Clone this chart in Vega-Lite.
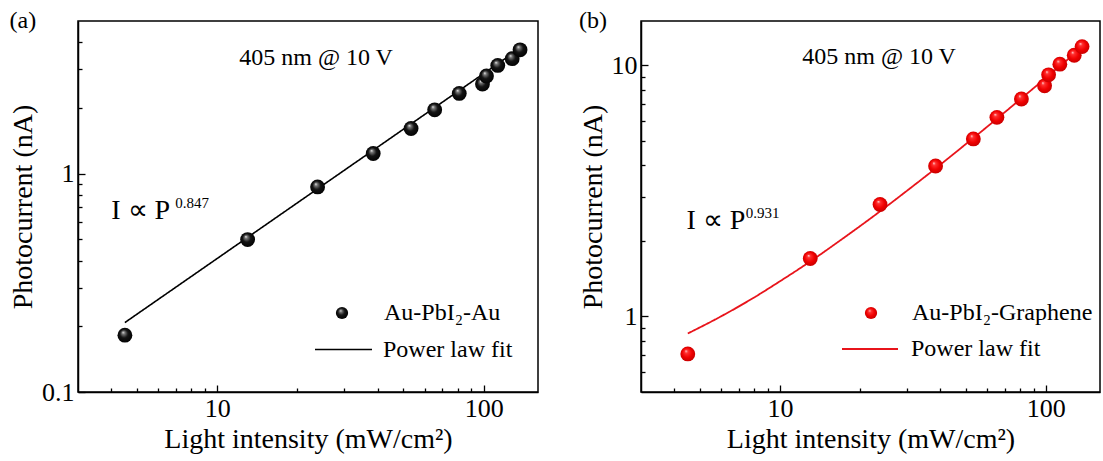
{
  "$schema": "https://vega.github.io/schema/vega-lite/v6.json",
  "padding": {"left": 8, "top": 8, "right": 0, "bottom": 0},
  "spacing": 39,
  "resolve": {"scale": {"shape": "independent", "strokeDash": "independent"}, "legend": {"shape": "independent", "strokeDash": "independent"}},
  "config": {
    "font": "Liberation Serif",
    "view": {"stroke": "black", "strokeWidth": 1.5},
    "axis": {"domainColor": "black", "domainWidth": 1.5, "tickColor": "black", "tickWidth": 1.3, "labelColor": "black", "titleColor": "black", "labelFont": "Liberation Serif", "titleFont": "Liberation Serif", "labelFontSize": 26, "titleFontSize": 28, "titleFontWeight": "normal", "grid": false, "format": "~g"},
    "legend": {"labelFont": "Liberation Serif", "labelFontSize": 24, "labelColor": "black", "title": null, "labelLimit": 400},
    "text": {"font": "Liberation Serif"},
    "title": {"font": "Liberation Serif", "fontSize": 24, "fontWeight": "normal", "color": "black", "anchor": "start", "frame": "bounds", "offset": -12}
  },
  "datasets": {
    "a_pts": [
      {"P": 4.5, "I": 0.182, "series": "Au-PbI₂-Au"},
      {"P": 13, "I": 0.499, "series": "Au-PbI₂-Au"},
      {"P": 23.8, "I": 0.869, "series": "Au-PbI₂-Au"},
      {"P": 38.5, "I": 1.236, "series": "Au-PbI₂-Au"},
      {"P": 53.4, "I": 1.61, "series": "Au-PbI₂-Au"},
      {"P": 65.5, "I": 1.96, "series": "Au-PbI₂-Au"},
      {"P": 81, "I": 2.33, "series": "Au-PbI₂-Au"},
      {"P": 99, "I": 2.57, "series": "Au-PbI₂-Au"},
      {"P": 102.5, "I": 2.8, "series": "Au-PbI₂-Au"},
      {"P": 113, "I": 3.13, "series": "Au-PbI₂-Au"},
      {"P": 128, "I": 3.36, "series": "Au-PbI₂-Au"},
      {"P": 137, "I": 3.69, "series": "Au-PbI₂-Au"}
    ],
    "a_fit": [
      {"P": 4.5, "I": 0.208, "fit": "Power law fit"},
      {"P": 137, "I": 3.75, "fit": "Power law fit"}
    ],
    "b_pts": [
      {"P": 4.5, "I": 0.709, "series": "Au-PbI₂-Graphene"},
      {"P": 13, "I": 1.7, "series": "Au-PbI₂-Graphene"},
      {"P": 23.8, "I": 2.79, "series": "Au-PbI₂-Graphene"},
      {"P": 38.5, "I": 3.97, "series": "Au-PbI₂-Graphene"},
      {"P": 53.4, "I": 5.09, "series": "Au-PbI₂-Graphene"},
      {"P": 65.5, "I": 6.2, "series": "Au-PbI₂-Graphene"},
      {"P": 81, "I": 7.34, "series": "Au-PbI₂-Graphene"},
      {"P": 99, "I": 8.28, "series": "Au-PbI₂-Graphene"},
      {"P": 102.5, "I": 9.16, "series": "Au-PbI₂-Graphene"},
      {"P": 113, "I": 10.1, "series": "Au-PbI₂-Graphene"},
      {"P": 128, "I": 10.96, "series": "Au-PbI₂-Graphene"},
      {"P": 137, "I": 11.86, "series": "Au-PbI₂-Graphene"}
    ],
    "b_fit": [
      {"P": 4.5, "I": 0.855, "fit": "Power law fit"},
      {"P": 6, "I": 1.0, "fit": "Power law fit"},
      {"P": 8, "I": 1.19, "fit": "Power law fit"},
      {"P": 10, "I": 1.38, "fit": "Power law fit"},
      {"P": 13, "I": 1.655, "fit": "Power law fit"},
      {"P": 17, "I": 2.02, "fit": "Power law fit"},
      {"P": 23.8, "I": 2.62, "fit": "Power law fit"},
      {"P": 30, "I": 3.16, "fit": "Power law fit"},
      {"P": 38.6, "I": 3.89, "fit": "Power law fit"},
      {"P": 50, "I": 4.85, "fit": "Power law fit"},
      {"P": 65, "I": 6.08, "fit": "Power law fit"},
      {"P": 80, "I": 7.3, "fit": "Power law fit"},
      {"P": 100, "I": 8.9, "fit": "Power law fit"},
      {"P": 120, "I": 10.47, "fit": "Power law fit"},
      {"P": 137, "I": 11.8, "fit": "Power law fit"}
    ],
    "a_txt": [
      {"P": 23.5, "I": 3.4, "t": "405 nm @ 10 V"}
    ],
    "a_law": [
      {"P": 4.0, "I": 0.672, "t": "I ∝ P"}
    ],
    "a_sup": [
      {"P": 6.95, "I": 0.731, "t": "0.847"}
    ],
    "b_txt": [
      {"P": 23.6, "I": 10.8, "t": "405 nm @ 10 V"}
    ],
    "b_law": [
      {"P": 4.45, "I": 2.4, "t": "I ∝ P"}
    ],
    "b_sup": [
      {"P": 7.43, "I": 2.58, "t": "0.931"}
    ]
  },
  "hconcat": [
    {
      "width": 460,
      "height": 371,
      "title": {"text": "(a)"},
      "encoding": {
        "x": {"field": "P", "type": "quantitative", "title": "Light intensity (mW/cm²)",
          "scale": {"type": "log", "domain": [3, 160], "nice": false},
          "axis": {"values": [4, 5, 6, 7, 8, 9, 10, 20, 30, 40, 50, 60, 70, 80, 90, 100],
            "labelExpr": "(datum.value == 10 || datum.value == 100) ? datum.label : ''",
            "tickSize": {"condition": {"test": "datum.value == 10 || datum.value == 100", "value": -7}, "value": -4},
            "labelPadding": 10, "titlePadding": 1, "labelFlush": false, "labelOverlap": false}},
        "y": {"field": "I", "type": "quantitative", "title": "Photocurrent (nA)",
          "scale": {"type": "log", "domain": [0.1, 5], "nice": false},
          "axis": {"values": [0.1, 0.2, 0.3, 0.4, 0.5, 0.6, 0.7, 0.8, 0.9, 1, 2, 3, 4],
            "labelExpr": "(datum.value == 0.1 || datum.value == 1) ? datum.label : ''",
            "tickSize": {"condition": {"test": "datum.value == 0.1 || datum.value == 1", "value": -7}, "value": -4},
            "labelPadding": 11, "titlePadding": 4, "labelFlush": false, "labelOverlap": false}}
      },
      "layer": [
        {
          "data": {"name": "a_fit"},
          "mark": {"type": "line", "color": "black", "strokeWidth": 1.6},
          "encoding": {
            "strokeDash": {"field": "fit", "type": "nominal", "scale": {"range": [[1, 0]]},
              "legend": {"orient": "none", "legendX": 236, "legendY": 299, "symbolSize": 3249, "symbolStrokeWidth": 1.6, "symbolStrokeColor": "black", "labelOffset": 10}}
          }
        },
        {
          "data": {"name": "a_pts"},
          "mark": {"type": "point", "filled": true, "size": 220, "opacity": 1,
            "fill": {"gradient": "radial", "x1": 0.38, "y1": 0.3, "r1": 0, "x2": 0.5, "y2": 0.5, "r2": 0.55,
              "stops": [{"offset": 0, "color": "#f4f4f4"}, {"offset": 0.18, "color": "#777777"}, {"offset": 0.5, "color": "#141414"}, {"offset": 1, "color": "#000000"}]}},
          "encoding": {
            "shape": {"field": "series", "type": "nominal", "scale": {"range": ["circle"]},
              "legend": {"orient": "none", "legendX": 252, "legendY": 280, "symbolSize": 150, "labelOffset": 30,
                "encode": {"symbols": {"update": {"fill": {"value": {"gradient": "radial", "x1": 0.38, "y1": 0.3, "r1": 0, "x2": 0.5, "y2": 0.5, "r2": 0.55,
              "stops": [{"offset": 0, "color": "#f4f4f4"}, {"offset": 0.18, "color": "#777777"}, {"offset": 0.5, "color": "#141414"}, {"offset": 1, "color": "#000000"}]}}, "opacity": {"value": 1}, "strokeWidth": {"value": 0}}}}}}
          }
        },
        {
          "data": {"name": "a_txt"},
          "mark": {"type": "text", "fontSize": 24, "align": "center", "baseline": "middle", "color": "black"},
          "encoding": {"text": {"field": "t"}}
        },
        {
          "data": {"name": "a_law"},
          "mark": {"type": "text", "fontSize": 28, "align": "left", "baseline": "middle", "color": "black"},
          "encoding": {"text": {"field": "t"}}
        },
        {
          "data": {"name": "a_sup"},
          "mark": {"type": "text", "fontSize": 15, "align": "left", "baseline": "middle", "color": "black"},
          "encoding": {"text": {"field": "t"}}
        }
      ]
    },
    {
      "width": 459,
      "height": 371,
      "title": {"text": "(b)"},
      "encoding": {
        "x": {"field": "P", "type": "quantitative", "title": "Light intensity (mW/cm²)",
          "scale": {"type": "log", "domain": [3, 160], "nice": false},
          "axis": {"values": [4, 5, 6, 7, 8, 9, 10, 20, 30, 40, 50, 60, 70, 80, 90, 100],
            "labelExpr": "(datum.value == 10 || datum.value == 100) ? datum.label : ''",
            "tickSize": {"condition": {"test": "datum.value == 10 || datum.value == 100", "value": -7}, "value": -4},
            "labelPadding": 10, "titlePadding": 1, "labelFlush": false, "labelOverlap": false}},
        "y": {"field": "I", "type": "quantitative", "title": "Photocurrent (nA)",
          "scale": {"type": "log", "domain": [0.5, 15], "nice": false},
          "axis": {"values": [0.6, 0.7, 0.8, 0.9, 1, 2, 3, 4, 5, 6, 7, 8, 9, 10],
            "labelExpr": "(datum.value == 1 || datum.value == 10) ? datum.label : ''",
            "tickSize": {"condition": {"test": "datum.value == 1 || datum.value == 10", "value": -7}, "value": -4},
            "labelPadding": 11, "titlePadding": 4, "labelFlush": false, "labelOverlap": false}}
      },
      "layer": [
        {
          "data": {"name": "b_fit"},
          "mark": {"type": "line", "color": "#e8141b", "strokeWidth": 1.8, "interpolate": "monotone"},
          "encoding": {
            "strokeDash": {"field": "fit", "type": "nominal", "scale": {"range": [[1, 0]]},
              "legend": {"orient": "none", "legendX": 200, "legendY": 299, "symbolSize": 3136, "symbolStrokeWidth": 1.8, "symbolStrokeColor": "#e8141b", "labelOffset": 12}}
          }
        },
        {
          "data": {"name": "b_pts"},
          "mark": {"type": "point", "filled": true, "size": 220, "opacity": 1,
            "fill": {"gradient": "radial", "x1": 0.38, "y1": 0.3, "r1": 0, "x2": 0.5, "y2": 0.5, "r2": 0.55,
              "stops": [{"offset": 0, "color": "#ffe8e8"}, {"offset": 0.2, "color": "#ff3030"}, {"offset": 0.6, "color": "#f00000"}, {"offset": 1, "color": "#c00000"}]}},
          "encoding": {
            "shape": {"field": "series", "type": "nominal", "scale": {"range": ["circle"]},
              "legend": {"orient": "none", "legendX": 218, "legendY": 280, "symbolSize": 150, "labelOffset": 29,
                "encode": {"symbols": {"update": {"fill": {"value": {"gradient": "radial", "x1": 0.38, "y1": 0.3, "r1": 0, "x2": 0.5, "y2": 0.5, "r2": 0.55,
              "stops": [{"offset": 0, "color": "#ffe8e8"}, {"offset": 0.2, "color": "#ff3030"}, {"offset": 0.6, "color": "#f00000"}, {"offset": 1, "color": "#c00000"}]}}, "opacity": {"value": 1}, "strokeWidth": {"value": 0}}}}}}
          }
        },
        {
          "data": {"name": "b_txt"},
          "mark": {"type": "text", "fontSize": 24, "align": "center", "baseline": "middle", "color": "black"},
          "encoding": {"text": {"field": "t"}}
        },
        {
          "data": {"name": "b_law"},
          "mark": {"type": "text", "fontSize": 28, "align": "left", "baseline": "middle", "color": "black"},
          "encoding": {"text": {"field": "t"}}
        },
        {
          "data": {"name": "b_sup"},
          "mark": {"type": "text", "fontSize": 15, "align": "left", "baseline": "middle", "color": "black"},
          "encoding": {"text": {"field": "t"}}
        }
      ]
    }
  ]
}
